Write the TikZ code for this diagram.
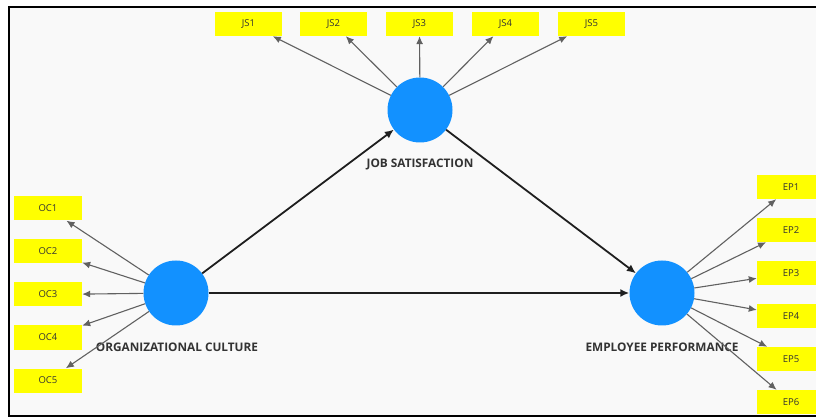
\documentclass[tikz,border=0pt]{standalone}
\usepackage{fontspec}
\setmainfont{Open Sans}
\usetikzlibrary{arrows.meta}
\definecolor{lvblue}{RGB}{18,145,255}
\definecolor{indyel}{RGB}{255,255,0}
\definecolor{bggray}{RGB}{249,249,249}
\tikzset{
  latent/.style={circle, fill=lvblue, minimum size=65pt, inner sep=0pt},
  indbox/.style={rectangle, fill=indyel, minimum width=67pt, minimum height=24pt, inner sep=0pt,
    font=\fontsize{9.5}{10}\selectfont, text=black!80},
  lvlabel/.style={font=\bfseries\fontsize{11.8}{13}\selectfont, text=black!80, inner sep=0pt},
  indarrow/.style={draw=black!62, line width=1.1pt, -{Latex[length=8pt,width=7pt]}},
  patharrow/.style={draw=black!88, line width=1.8pt, -{Latex[length=9pt,width=8pt]}}
}
\begin{document}
\begin{tikzpicture}[x=1pt,y=-1pt]
\useasboundingbox (0,0) rectangle (816,419);
\clip (0,0) rectangle (816,419);
\fill[white] (0,0) rectangle (816,419);
\filldraw[fill=bggray, draw=black, line width=1.8pt] (9,7) rectangle (830,416);

% latent variables
\node[latent] (JS) at (420,110) {};
\node[latent] (OC) at (176,293) {};
\node[latent] (EP) at (662,293) {};

\node[lvlabel] (JSl) at (420,164) {JOB SATISFACTION};
\node[lvlabel] (OCl) at (177,347) {ORGANIZATIONAL CULTURE};
\node[lvlabel] (EPl) at (662,347) {EMPLOYEE PERFORMANCE};

% JS indicators
\node[indbox] (JS1) at (248.5,24) {JS1};
\node[indbox] (JS2) at (333.5,24) {JS2};
\node[indbox] (JS3) at (419.5,24) {JS3};
\node[indbox] (JS4) at (505.5,24) {JS4};
\node[indbox] (JS5) at (591.5,24) {JS5};

% OC indicators
\node[indbox, minimum width=68pt] (OC1) at (48,208.5) {OC1};
\node[indbox, minimum width=68pt] (OC2) at (48,251.5) {OC2};
\node[indbox, minimum width=68pt] (OC3) at (48,294.5) {OC3};
\node[indbox, minimum width=68pt] (OC4) at (48,337.5) {OC4};
\node[indbox, minimum width=68pt] (OC5) at (48,380.5) {OC5};

% EP indicators
\node[indbox, minimum width=68pt] (EP1) at (791,187) {EP1};
\node[indbox, minimum width=68pt] (EP2) at (791,230) {EP2};
\node[indbox, minimum width=68pt] (EP3) at (791,273) {EP3};
\node[indbox, minimum width=68pt] (EP4) at (791,316) {EP4};
\node[indbox, minimum width=68pt] (EP5) at (791,359) {EP5};
\node[indbox, minimum width=68pt] (EP6) at (791,402) {EP6};

% indicator arrows
\foreach \i in {1,...,5} { \draw[indarrow] (JS) -- (JS\i); }
\foreach \i in {1,...,5} { \draw[indarrow] (OC) -- (OC\i); }
\foreach \i in {1,...,6} { \draw[indarrow] (EP) -- (EP\i); }

% structural paths
\draw[patharrow] (OC) -- (JS);
\draw[patharrow] (JS) -- (EP);
\draw[patharrow] (OC) -- (EP);

\end{tikzpicture}
\end{document}
